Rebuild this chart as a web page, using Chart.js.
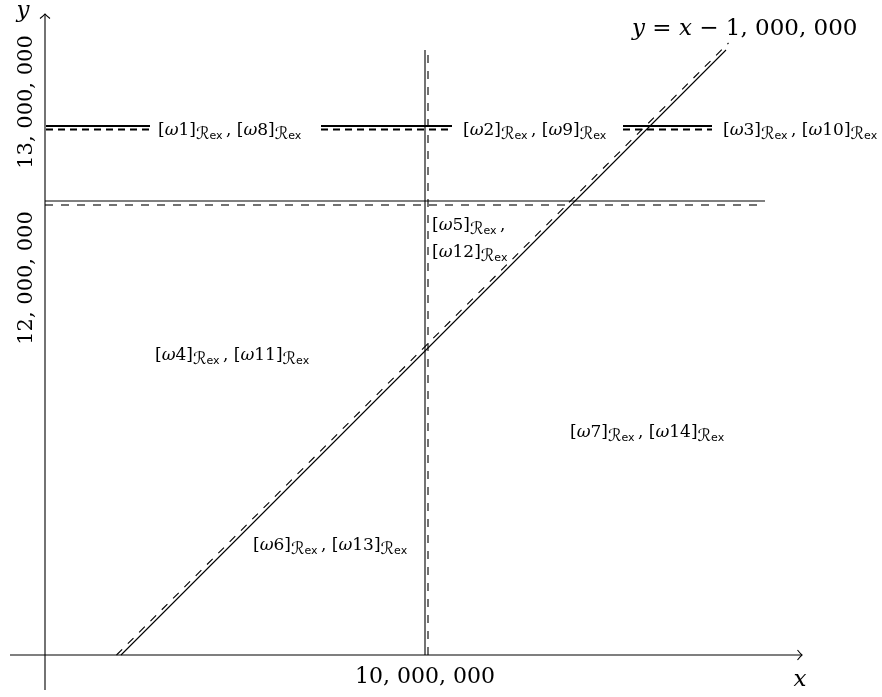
<!DOCTYPE html>
<html lang="en">

<head>
    <meta charset="UTF-8">
    <title>Regions</title>
    <script src="https://cdn.jsdelivr.net/npm/chart.js"></script>
    <style>
        body { margin: 0; background: #ffffff; }
        #quadro { width: 882px; height: 697px; }
    </style>
</head>

<body>
    <div id="quadro"><canvas id="grafico" width="882" height="697"></canvas></div>
</body>
</html>

<script>
    // values in millions
    var eixoX = [1.7, 17.54];          // x axis runs from .. to
    var eixoY = [2.22, 15.74];         // y axis runs from .. to
    var origemX = 2.4;
    var origemY = 2.92;

    var diagCheiaX = [3.92, 16.02];
    var diagCheiaY = [2.92, 15.02];
    var diagTracoX = [3.83, 16.07];
    var diagTracoY = [2.92, 15.16];

    var vertCheiaX = [10, 10];
    var vertCheiaY = [2.92, 15.02];
    var vertTracoX = [10.06, 10.06];
    var vertTracoY = [2.92, 14.92];

    var horizCheiaX = [2.4, 16.8];
    var horizCheiaY = [12, 12];
    var horizTracoX = [2.4, 16.8];
    var horizTracoY = [11.92, 11.92];

    var fronteiraX = [[2.42, 4.5], [7.92, 10.54], [13.96, 15.74]];
    var fronteiraCheiaY = 13.5;
    var fronteiraTracoY = 13.43;

    var ticksX = [10];
    var ticksXLabels = ['10, 000, 000'];
    var ticksY = [10.46, 13.98];
    var ticksYLabels = ['12, 000, 000', '13, 000, 000'];

    // region labels: pairs of class numbers and where they sit
    var regioes = [['1', '8'], ['2', '9'], ['3', '10'], ['4', '11'], ['7', '14'], ['6', '13']];
    var regioesX = [4.66, 10.76, 15.96, 4.6, 12.9, 6.56];
    var regioesY = [13.32, 13.32, 13.32, 8.82, 7.28, 5.02];
    var regiao5X = 10.14;
    var regiao5Y = [11.42, 10.88];

    var serif = "'DejaVu Serif', 'Liberation Serif', serif";
    var sans = "'DejaVu Sans', sans-serif";

    function pontos(xs, ys) {
        return xs.map(function (x, i) { return { x: x, y: ys[i] }; });
    }

    function linha(xs, ys, largura, traco) {
        return {
            data: pontos(xs, ys),
            showLine: true,
            borderColor: '#000000',
            borderWidth: largura,
            borderDash: traco || [],
            pointRadius: 0,
            fill: false
        };
    }

    var datasets = [
        linha(eixoX, [origemY, origemY], 1.1),
        linha([origemX, origemX], eixoY, 1.1),
        linha(diagCheiaX, diagCheiaY, 1.1),
        linha(diagTracoX, diagTracoY, 1.1, [8, 8]),
        linha(vertCheiaX, vertCheiaY, 1.1),
        linha(vertTracoX, vertTracoY, 1.1, [8, 8]),
        linha(horizCheiaX, horizCheiaY, 1.0),
        linha(horizTracoX, horizTracoY, 1.1, [8, 8])
    ];
    fronteiraX.forEach(function (seg) {
        datasets.push(linha(seg, [fronteiraCheiaY, fronteiraCheiaY], 2.2));
        datasets.push(linha(seg, [fronteiraTracoY, fronteiraTracoY], 2.2, [7, 5]));
    });

    // draw a row of text pieces: [text, font, dy]
    function textoRico(ctx, partes, x, y, alinhar) {
        var total = 0;
        partes.forEach(function (p) { ctx.font = p[1]; total += ctx.measureText(p[0]).width; });
        var cx = alinhar === 'center' ? x - total / 2 : x;
        partes.forEach(function (p) {
            ctx.font = p[1];
            ctx.fillText(p[0], cx, y + (p[2] || 0));
            cx += ctx.measureText(p[0]).width;
        });
    }

    function classe(n) {
        return [
            ['[', '17px ' + serif],
            ['ω', 'italic 17px ' + serif],
            [n, '17px ' + serif],
            [']', '17px ' + serif],
            ['ℛ', '17px ' + sans, 4],
            ['ex', '11px ' + sans, 4]
        ];
    }

    var virgula = [['\u2009, ', '17px ' + serif]];

    var textos = {
        id: 'textos',
        afterDatasetsDraw: function (chart) {
            var ctx = chart.ctx;
            var sx = chart.scales.x, sy = chart.scales.y;
            ctx.save();
            ctx.fillStyle = '#000000';
            ctx.strokeStyle = '#000000';
            ctx.textBaseline = 'alphabetic';
            ctx.textAlign = 'left';

            // arrow heads
            ctx.lineWidth = 1.1;
            var px = sx.getPixelForValue(eixoX[1]), py = sy.getPixelForValue(origemY);
            ctx.beginPath();
            ctx.moveTo(px - 4.5, py - 5);
            ctx.quadraticCurveTo(px - 1.5, py - 1.2, px, py);
            ctx.quadraticCurveTo(px - 1.5, py + 1.2, px - 4.5, py + 5);
            ctx.stroke();
            px = sx.getPixelForValue(origemX); py = sy.getPixelForValue(eixoY[1]);
            ctx.beginPath();
            ctx.moveTo(px - 5, py + 4.5);
            ctx.quadraticCurveTo(px - 1.2, py + 1.5, px, py);
            ctx.quadraticCurveTo(px + 1.2, py + 1.5, px + 5, py + 4.5);
            ctx.stroke();

            // region labels
            regioes.forEach(function (r, i) {
                var partes = classe(r[0]).concat(virgula, classe(r[1]));
                textoRico(ctx, partes, sx.getPixelForValue(regioesX[i]), sy.getPixelForValue(regioesY[i]));
            });
            textoRico(ctx, classe('5').concat([['\u2009,', '17px ' + serif]]),
                sx.getPixelForValue(regiao5X), sy.getPixelForValue(regiao5Y[0]));
            textoRico(ctx, classe('12'), sx.getPixelForValue(regiao5X), sy.getPixelForValue(regiao5Y[1]));

            // equation of the diagonal
            var f = '23px ' + serif, fi = 'italic 23px ' + serif;
            textoRico(ctx, [['y', fi], [' = ', f], ['x', fi], [' − ', f], ['1, 000, 000', f]],
                sx.getPixelForValue(14.14), sy.getPixelForValue(15.32));

            // tick labels
            ticksX.forEach(function (v, i) {
                textoRico(ctx, [[ticksXLabels[i], '22px ' + serif]], sx.getPixelForValue(v), sy.getPixelForValue(origemY) + 28, 'center');
            });
            ticksY.forEach(function (v, i) {
                ctx.save();
                ctx.translate(sx.getPixelForValue(origemX) - 13, sy.getPixelForValue(v));
                ctx.rotate(-Math.PI / 2);
                textoRico(ctx, [[ticksYLabels[i], '21px ' + serif]], 0, 0, 'center');
                ctx.restore();
            });

            // axis names
            textoRico(ctx, [['x', 'italic 23px ' + serif]], sx.getPixelForValue(eixoX[1]) - 2, sy.getPixelForValue(origemY) + 31, 'center');
            textoRico(ctx, [['y', 'italic 23px ' + serif]], sx.getPixelForValue(origemX) - 22, sy.getPixelForValue(eixoY[1]) + 3, 'center');
            ctx.restore();
        }
    };

    new Chart(document.getElementById('grafico').getContext('2d'), {
        type: 'scatter',
        data: { datasets: datasets },
        options: {
            responsive: false,
            animation: false,
            layout: { padding: 0 },
            scales: {
                x: { type: 'linear', display: false, min: 1.5, max: 19.14 },
                y: { type: 'linear', display: false, min: 2.08, max: 16.02 }
            },
            plugins: { legend: { display: false }, tooltip: { enabled: false } }
        },
        plugins: [textos]
    });
</script>
